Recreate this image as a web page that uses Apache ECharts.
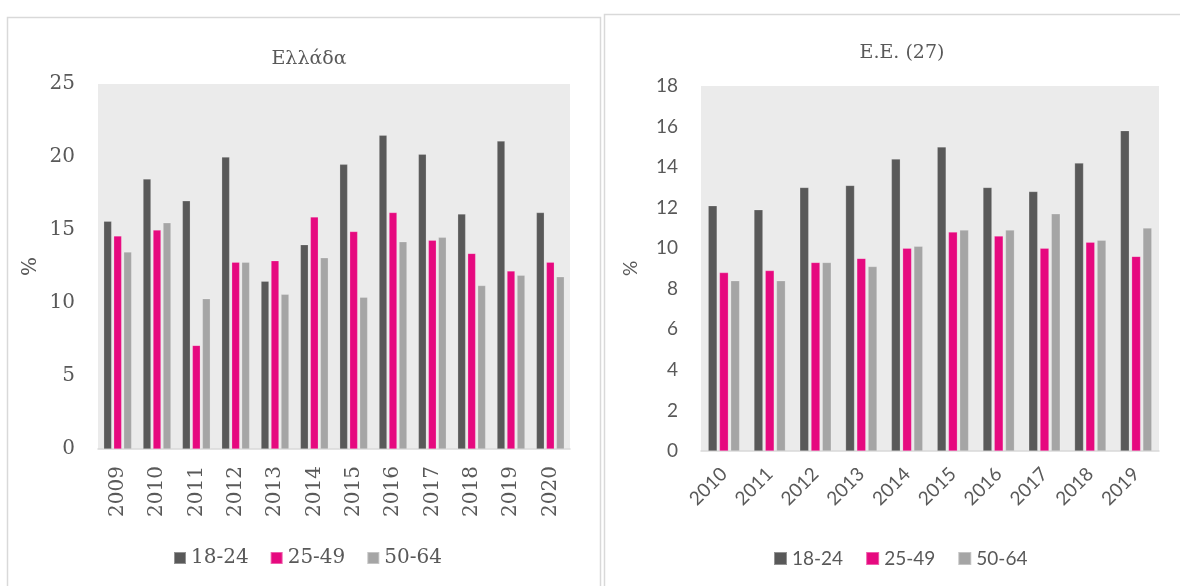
<!DOCTYPE html>
<html><head><meta charset="utf-8">
<script src="https://cdn.jsdelivr.net/npm/echarts@6/dist/echarts.min.js"></script>
<style>html,body{margin:0;padding:0;background:#fff;}#c{width:1180px;height:586px;}</style>
</head><body><div id="c"></div>
<script>
const seriesNames = ['18-24', '25-49', '50-64'];
const colors = ['#595959', '#E6097F', '#A5A5A5'];

const grYears = ['2009','2010','2011','2012','2013','2014','2015','2016','2017','2018','2019','2020'];
const gr1824 = [15.6, 18.5, 17.0, 20.0, 11.5, 14.0, 19.5, 21.5, 20.2, 16.1, 21.1, 16.2];
const gr2549 = [14.6, 15.0, 7.1, 12.8, 12.9, 15.9, 14.9, 16.2, 14.3, 13.4, 12.2, 12.8];
const gr5064 = [13.5, 15.5, 10.3, 12.8, 10.6, 13.1, 10.4, 14.2, 14.5, 11.2, 11.9, 11.8];

const euYears = ['2010','2011','2012','2013','2014','2015','2016','2017','2018','2019'];
const eu1824 = [12.1, 11.9, 13.0, 13.1, 14.4, 15.0, 13.0, 12.8, 14.2, 15.8];
const eu2549 = [8.8, 8.9, 9.3, 9.5, 10.0, 10.8, 10.6, 10.0, 10.3, 9.6];
const eu5064 = [8.4, 8.4, 9.3, 9.1, 10.1, 10.9, 10.9, 11.7, 10.4, 11.0];

const serif = '"DejaVu Serif", "Liberation Serif", serif';
const sans = 'Lato, "Open Sans", sans-serif';
const txt = '#595959';

const grData = [gr1824, gr2549, gr5064];
const euData = [eu1824, eu2549, eu5064];

const series = [];
seriesNames.forEach((n, i) => {
  series.push({
    name: n, type: 'bar', xAxisIndex: 0, yAxisIndex: 0, data: grData[i],
    barWidth: 8, barGap: '25%',
    itemStyle: { color: colors[i], borderColor: 'rgba(255,255,255,0.35)', borderWidth: 0.6 }
  });
});
seriesNames.forEach((n, i) => {
  series.push({
    name: n, type: 'bar', xAxisIndex: 1, yAxisIndex: 1, data: euData[i],
    barWidth: 9, barGap: '25%',
    itemStyle: { color: colors[i], borderColor: 'rgba(255,255,255,0.35)', borderWidth: 0.6 }
  });
});

const chart = echarts.init(document.getElementById('c'), null, { renderer: 'canvas' });
chart.setOption({
  animation: false,
  backgroundColor: '#fff',
  graphic: [
    { type: 'rect', shape: { x: 7.5, y: 17.5, width: 593, height: 620 }, style: { fill: 'none', stroke: '#d9d9d9', lineWidth: 1.5 }, z: -1 },
    { type: 'rect', shape: { x: 604.5, y: 14.5, width: 600, height: 620 }, style: { fill: 'none', stroke: '#d9d9d9', lineWidth: 1.5 }, z: -1 }
  ],
  title: [
    { text: 'Ελλάδα', left: 304, top: 45, textAlign: 'center', textStyle: { fontFamily: serif, fontSize: 19, fontWeight: 'normal', color: txt } },
    { text: 'E.E. (27)', left: 897, top: 39, textAlign: 'center', textStyle: { fontFamily: serif, fontSize: 19, fontWeight: 'normal', color: txt } }
  ],
  legend: [
    { data: seriesNames, left: 168, top: 543, itemWidth: 12, itemHeight: 12, itemGap: 21, icon: 'rect',
      textStyle: { fontFamily: serif, fontSize: 20, color: txt } },
    { data: seriesNames, left: 768, top: 544, itemWidth: 13, itemHeight: 13, itemGap: 22, icon: 'rect',
      textStyle: { fontFamily: sans, fontSize: 19, color: txt } }
  ],
  grid: [
    { left: 98, right: 610, top: 84, bottom: 137, show: true, backgroundColor: '#EBEBEB', borderWidth: 0 },
    { left: 701, right: 21, top: 86, bottom: 135, show: true, backgroundColor: '#EBEBEB', borderWidth: 0 }
  ],
  xAxis: [
    { type: 'category', gridIndex: 0, data: grYears,
      axisLine: { lineStyle: { color: '#d9d9d9', width: 1.5 } }, axisTick: { show: false },
      axisLabel: { rotate: 90, margin: 17, fontFamily: serif, fontSize: 20, color: txt } },
    { type: 'category', gridIndex: 1, data: euYears,
      axisLine: { lineStyle: { color: '#d9d9d9', width: 1.5 } }, axisTick: { show: false },
      axisLabel: { rotate: 45, margin: 20, fontFamily: sans, fontSize: 19, color: txt } }
  ],
  yAxis: [
    { type: 'value', gridIndex: 0, min: 0, max: 25, interval: 5,
      name: '%', nameLocation: 'middle', nameRotate: 90, nameGap: 57,
      nameTextStyle: { fontFamily: serif, fontSize: 20, color: txt },
      splitLine: { show: false }, axisLine: { show: false }, axisTick: { show: false },
      axisLabel: { margin: 23, fontFamily: serif, fontSize: 20, color: txt } },
    { type: 'value', gridIndex: 1, min: 0, max: 18, interval: 2,
      name: '%', nameLocation: 'middle', nameRotate: 90, nameGap: 61,
      nameTextStyle: { fontFamily: sans, fontSize: 19, color: txt },
      splitLine: { show: false }, axisLine: { show: false }, axisTick: { show: false },
      axisLabel: { margin: 23, fontFamily: sans, fontSize: 19, color: txt } }
  ],
  series: series
});
</script>
</body></html>
